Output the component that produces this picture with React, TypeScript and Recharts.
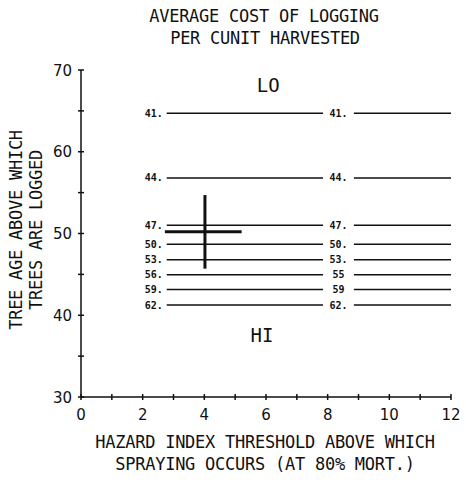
import React from 'react';
import { ComposedChart, Line, Scatter, XAxis, YAxis, Label } from 'recharts';

// ---- data ----
const xTicks = [0, 1, 2, 3, 4, 5, 6, 7, 8, 9, 10, 11, 12];
const yTicks = [30, 35, 40, 45, 50, 55, 60, 65, 70];
const costLabels = ['41.', '44.', '47.', '50.', '53.', '56.', '59.', '62.'];
const midCostLabels = ['41.', '44.', '47.', '50.', '53.', '55', '59', '62.'];
const contourAges = [64.7, 56.8, 51.0, 48.7, 46.8, 44.95, 43.15, 41.25];
const leftSegment = [2.78, 7.85];
const rightSegment = [8.85, 12];
const midLabelX = 8.35;
const crossCenter = { x: 4.02, y: 50.2 };
const crossXRange = [2.72, 5.21];
const crossYRange = [45.7, 54.7];
const regionLabels = [
  { t: 'LO', x: 6.07, y: 67.3 },
  { t: 'HI', x: 5.87, y: 36.75 },
];
const titleLines = ['AVERAGE COST OF LOGGING', 'PER CUNIT HARVESTED'];
const xLabelLines = ['HAZARD INDEX THRESHOLD ABOVE WHICH', 'SPRAYING OCCURS (AT 80% MORT.)'];
const yLabelLines = ['TREE AGE ABOVE WHICH', 'TREES ARE LOGGED'];

// ---- derived series ----
const contourSeries = contourAges.map((a) => [
  { x: leftSegment[0], y: a },
  { x: leftSegment[1], y: a },
  { x: (leftSegment[1] + rightSegment[0]) / 2, y: null },
  { x: rightSegment[0], y: a },
  { x: rightSegment[1], y: a },
]);
const crossH = [
  { x: crossXRange[0], y: crossCenter.y },
  { x: crossXRange[1], y: crossCenter.y },
];
const crossV = [
  { x: crossCenter.x, y: crossYRange[0] },
  { x: crossCenter.x, y: crossYRange[1] },
];
const leftLabelPts = costLabels.map((t, i) => ({ x: leftSegment[0], y: contourAges[i], t }));
const midLabelPts = midCostLabels.map((t, i) => ({ x: midLabelX, y: contourAges[i], t }));

const MONO = '"DejaVu Sans Mono", monospace';
const SANS = '"DejaVu Sans", sans-serif';
const INK = '#111';

const YTick = (props: any) => {
  const { x, y, payload } = props;
  const v = payload.value;
  return (
    <g>
      <line x1={x - 3} x2={x + 3} y1={y} y2={y} stroke={INK} strokeWidth={1.5} />
      {v % 10 === 0 && (
        <text x={x - 9} y={y + 5.5} textAnchor="end" fontFamily={SANS} fontSize={15} fill={INK}>
          {v}
        </text>
      )}
    </g>
  );
};

const XTick = (props: any) => {
  const { x, y, payload } = props;
  const v = payload.value;
  return (
    <g>
      <line x1={x} x2={x} y1={y - 3} y2={y + 3} stroke={INK} strokeWidth={1.5} />
      {v % 2 === 0 && (
        <text x={x} y={y + 23} textAnchor="middle" fontFamily={SANS} fontSize={15} fill={INK}>
          {v}
        </text>
      )}
    </g>
  );
};

const textStyle = { fontFamily: MONO, fontSize: 17, letterSpacing: -0.25, fill: INK } as const;

const XLabel = (props: any) => {
  const vb = props.viewBox || {};
  const cx = 265;
  return (
    <g>
      <text x={cx} y={448} textAnchor="middle" {...textStyle}>{xLabelLines[0]}</text>
      <text x={cx} y={470} textAnchor="middle" {...textStyle}>{xLabelLines[1]}</text>
      <text x={cx - 1} y={21.5} textAnchor="middle" {...textStyle}>{titleLines[0]}</text>
      <text x={cx} y={43.5} textAnchor="middle" {...textStyle}>{titleLines[1]}</text>
    </g>
  );
};

const YLabel = (props: any) => {
  const cy = 230;
  return (
    <g>
      <text x={22} y={cy} transform={`rotate(-90 22 ${cy})`} textAnchor="middle" {...textStyle}>
        {yLabelLines[0]}
      </text>
      <text x={42} y={cy} transform={`rotate(-90 42 ${cy})`} textAnchor="middle" {...textStyle}>
        {yLabelLines[1]}
      </text>
    </g>
  );
};

const LeftLabel = (p: any) => (
  <text x={p.cx - 4} y={p.cy + 3.5} textAnchor="end" fontFamily={MONO} fontWeight="bold" fontSize={10} fill={INK}>
    {p.payload.t}
  </text>
);
const MidLabel = (p: any) => (
  <text x={p.cx} y={p.cy + 3.5} textAnchor="middle" fontFamily={MONO} fontWeight="bold" fontSize={10} fill={INK}>
    {p.payload.t}
  </text>
);
const RegionLabel = (p: any) => (
  <text x={p.cx} y={p.cy} textAnchor="middle" fontFamily={MONO} fontSize={19} fill={INK}>
    {p.payload.t}
  </text>
);

export default function App() {
  return (
    <div style={{ position: 'absolute', left: 0, top: 0, width: 466, height: 483, background: '#fff' }}>
      <ComposedChart width={466} height={483} margin={{ top: 70, right: 15, bottom: 56, left: 31 }}>
        <XAxis
          dataKey="x"
          type="number"
          domain={[0, 12]}
          ticks={xTicks}
          interval={0}
          height={30}
          tickSize={0}
          tickMargin={0}
          tickLine={false}
          tick={<XTick />}
          axisLine={{ stroke: INK, strokeWidth: 1.5 }}
          allowDataOverflow
        >
          <Label content={<XLabel />} />
        </XAxis>
        <YAxis
          dataKey="y"
          type="number"
          domain={[30, 70]}
          ticks={yTicks}
          interval={0}
          width={50}
          tickSize={0}
          tickMargin={0}
          tickLine={false}
          tick={<YTick />}
          axisLine={{ stroke: INK, strokeWidth: 1.5 }}
          allowDataOverflow
        >
          <Label content={<YLabel />} />
        </YAxis>
        {contourSeries.map((d, i) => (
          <Line
            key={'c' + i}
            data={d}
            dataKey="y"
            stroke={INK}
            strokeWidth={1.5}
            dot={false}
            activeDot={false}
            connectNulls={false}
            isAnimationActive={false}
            type="linear"
          />
        ))}
        <Line data={crossH} dataKey="y" stroke={INK} strokeWidth={3} dot={false} activeDot={false} isAnimationActive={false} type="linear" />
        <Line data={crossV} dataKey="y" stroke={INK} strokeWidth={3} dot={false} activeDot={false} isAnimationActive={false} type="linear" />
        <Scatter data={leftLabelPts} dataKey="y" shape={<LeftLabel />} isAnimationActive={false} />
        <Scatter data={midLabelPts} dataKey="y" shape={<MidLabel />} isAnimationActive={false} />
        <Scatter data={regionLabels} dataKey="y" shape={<RegionLabel />} isAnimationActive={false} />
      </ComposedChart>
    </div>
  );
}
